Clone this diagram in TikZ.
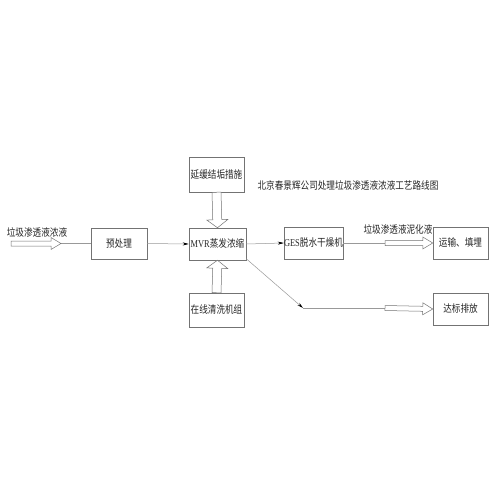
\documentclass[tikz,border=0pt]{standalone}
\usepackage{fontspec}
\setmainfont[FakeStretch=0.8]{Liberation Serif}
\newfontfamily\cjk[FakeStretch=0.82]{Noto Sans CJK SC}
\usetikzlibrary{calc,arrows.meta}
\newcommand\harrow[5]{%
  \coordinate (hh) at ($(#2)!#5!(#1)$);
  \draw[hollowline] ($(#1)!#3!90:(#2)$) -- ($(hh)!#3!90:(#2)$) -- ($(hh)!#4!90:(#2)$) -- (#2)
    -- ($(hh)!#4!-90:(#2)$) -- ($(hh)!#3!-90:(#2)$) -- ($(#1)!#3!-90:(#2)$) -- cycle;}
\begin{document}
\begin{tikzpicture}[x=1pt,y=-1pt,
  box/.style={draw=black!55,line width=0.5pt,inner sep=0pt,font=\fontsize{10.5}{12}\selectfont,text=black!85},
  lbl/.style={inner sep=0pt,font=\fontsize{10.5}{12}\selectfont,text=black!85},
  conn/.style={draw=black!40,line width=0.5pt},
  tip/.style={-{Stealth[length=6pt,width=3pt,black]}},
  hollowline/.style={draw=black!55,line width=0.5pt,fill=white}]
\useasboundingbox (0,0) rectangle (500,500);
\fill[white] (0,0) rectangle (500,500);
% boxes
\node[box,minimum width=56pt,minimum height=31pt] (pre) at (119,243.5) {\cjk 预处理};
\node[box,minimum width=57pt,minimum height=32pt] (mvr) at (217.5,244) {MVR{\cjk 蒸发浓缩}};
\node[box,minimum width=55pt,minimum height=35pt] (yan) at (216.5,174.5) {\cjk 延缓结垢措施};
\node[box,minimum width=55pt,minimum height=34pt] (zai) at (216.5,310) {\cjk 在线清洗机组};
\node[box,minimum width=57pt,minimum height=32pt] (ges) at (313.5,243) {GES{\cjk 脱水干燥机}};
\node[box,minimum width=55pt,minimum height=32pt] (yun) at (460.5,243) {\cjk 运输、填埋};
\node[box,minimum width=55pt,minimum height=32pt] (da) at (460.5,309) {\cjk 达标排放};
% labels
\node[lbl] (l1) at (37,232) {\cjk 垃圾渗透液浓液};
\node[lbl] (l2) at (398,229) {\cjk 垃圾渗透液泥化液};
\node[lbl] (title) at (348,185) {\cjk 北京春景辉公司处理垃圾渗透液浓液工艺路线图};
% coordinates
\coordinate (in0) at (11,243.5);
\coordinate (in1) at (61,243.5);
\coordinate (g1) at (385,243);
\coordinate (d0) at (303,308);
\coordinate (d1) at (385,308);
% connectors
\draw[conn] (in1) -- (pre.west);
\harrow{in0}{in1}{2.5pt}{6pt}{10pt}
\draw[conn,tip] (pre.east) -- (mvr.west);
\draw[conn,tip] (mvr.east) -- (ges.west);
\draw[conn] (ges.east) -- (g1);
\harrow{g1}{yun.west}{2.5pt}{6pt}{10pt}
\draw[conn,tip] ($(mvr.south east)+(0,-1.5)$) -- (d0);
\draw[conn] (d0) -- (d1);
\harrow{d1}{da.west}{2.5pt}{6pt}{10pt}
\harrow{yan.south}{mvr.north}{4.5pt}{10.5pt}{8pt}
\harrow{zai.north}{mvr.south}{4.5pt}{10.5pt}{8pt}
\end{tikzpicture}
\end{document}
